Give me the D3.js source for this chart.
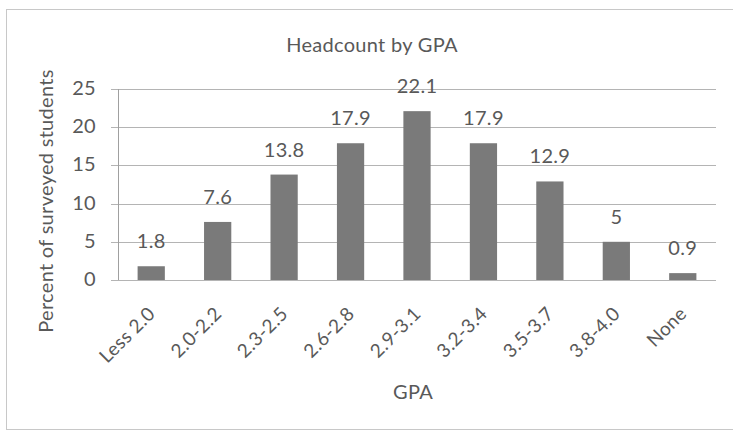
<!DOCTYPE html>
<html>
  <head>
    <script src="https://d3js.org/d3.v7.min.js"></script>
    <style>
      html, body { margin: 0; padding: 0; background: #fff; }
      svg { display: block; font-family: Lato, "Open Sans", Arial, sans-serif; letter-spacing: 0.3px; }
    </style>
  </head>
  <body>
    <svg id="chartSvg" width="733" height="434"></svg>
    <script>
      // chart data
      var categories = ["Less 2.0", "2.0-2.2", "2.3-2.5", "2.6-2.8", "2.9-3.1", "3.2-3.4", "3.5-3.7", "3.8-4.0", "None"];
      var values = [1.8, 7.6, 13.8, 17.9, 22.1, 17.9, 12.9, 5, 0.9];
      var yTicks = [0, 5, 10, 15, 20, 25];

      var svg = d3.select("svg");
      var textColor = "#595959";

      // outer frame
      svg.append("rect")
        .attr("x", 6.5).attr("y", 9.5)
        .attr("width", 740).attr("height", 420)
        .style("fill", "none").style("stroke", "#c8c8c8");

      // plot box (don't use "top" - clashes with window.top)
      var plotL = 118, plotR = 716, plotT = 89, plotB = 280;

      var x = d3.scaleBand().domain(categories).range([plotL, plotR]).paddingInner(0.59).paddingOuter(0.295);
      var y = d3.scaleLinear().domain([0, 25]).range([plotB, plotT]);

      // gridlines
      svg.append("g")
        .selectAll("line")
        .data(yTicks)
        .enter()
        .append("line")
        .attr("x1", plotL - 7).attr("x2", plotR)
        .attr("y1", d => Math.round(y(d)) + 0.5).attr("y2", d => Math.round(y(d)) + 0.5)
        .style("stroke", "#b4b4b4");

      // y axis line
      svg.append("line")
        .attr("x1", plotL + 0.5).attr("x2", plotL + 0.5)
        .attr("y1", plotT).attr("y2", plotB)
        .style("stroke", "#a0a0a0");

      // y tick labels
      svg.append("g")
        .selectAll("text")
        .data(yTicks)
        .enter()
        .append("text")
        .attr("x", plotL - 22)
        .attr("y", d => y(d) + 6)
        .attr("text-anchor", "end")
        .style("font-size", "20px")
        .style("fill", textColor)
        .text(d => d);

      // bars
      svg.append("g")
        .selectAll("rect")
        .data(values)
        .enter()
        .append("rect")
        .attr("x", (d, i) => x(categories[i]))
        .attr("y", d => y(d))
        .attr("width", x.bandwidth())
        .attr("height", d => plotB - y(d))
        .style("fill", "#7a7a7a");

      // value labels
      svg.append("g")
        .selectAll("text")
        .data(values)
        .enter()
        .append("text")
        .attr("x", (d, i) => x(categories[i]) + x.bandwidth() / 2)
        .attr("y", d => y(d) - 18)
        .attr("text-anchor", "middle")
        .style("font-size", "20px")
        .style("fill", textColor)
        .text(d => d);

      // x tick labels, rotated
      svg.append("g")
        .selectAll("text")
        .data(categories)
        .enter()
        .append("text")
        .attr("transform", d => `translate(${x(d) + x.bandwidth() / 2 + 5},${plotB + 35}) rotate(-45)`)
        .attr("text-anchor", "end")
        .style("font-size", "19px")
        .style("fill", textColor)
        .text(d => d);

      // titles
      svg.append("text")
        .attr("x", 372).attr("y", 52)
        .attr("text-anchor", "middle")
        .style("font-size", "20px")
        .style("fill", textColor)
        .text("Headcount by GPA");

      svg.append("text")
        .attr("x", 413).attr("y", 399)
        .attr("text-anchor", "middle")
        .style("font-size", "20px")
        .style("fill", textColor)
        .text("GPA");

      svg.append("text")
        .attr("transform", "translate(53,201) rotate(-90)")
        .attr("text-anchor", "middle")
        .style("font-size", "20px")
        .style("fill", textColor)
        .text("Percent of surveyed students");
    </script>
  </body>
</html>
